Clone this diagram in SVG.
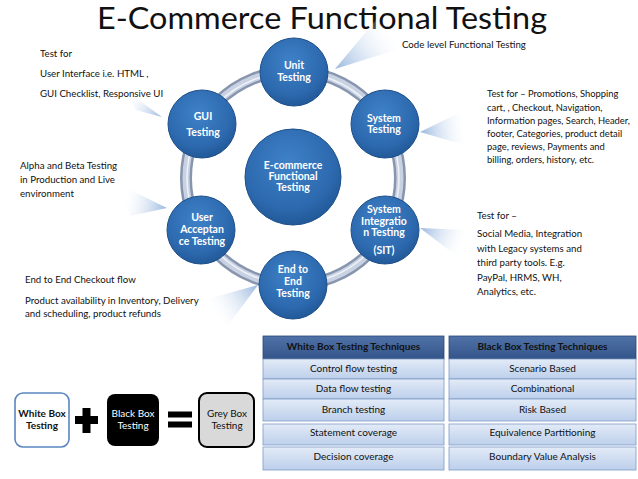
<svg xmlns="http://www.w3.org/2000/svg" width="638" height="479" viewBox="0 0 638 479">
<defs>
<radialGradient id="ball" cx="0.45" cy="0.35" r="0.7">
<stop offset="0" stop-color="#3f82c8"/>
<stop offset="0.7" stop-color="#2c68ad"/>
<stop offset="1" stop-color="#1f5592"/>
</radialGradient>
<linearGradient id="hdr" x1="0" y1="0" x2="0" y2="1">
<stop offset="0" stop-color="#4f72a8"/>
<stop offset="1" stop-color="#34558a"/>
</linearGradient>
<linearGradient id="row" x1="0" y1="0" x2="0" y2="1">
<stop offset="0" stop-color="#e3ebf7"/>
<stop offset="1" stop-color="#bccfeb"/>
</linearGradient>
<linearGradient id="w1" gradientUnits="userSpaceOnUse" x1="335" y1="69" x2="392" y2="32"><stop offset="0" stop-color="#97b6de"/><stop offset="1" stop-color="#ffffff" stop-opacity="0.1"/></linearGradient>
<linearGradient id="w2" gradientUnits="userSpaceOnUse" x1="420" y1="132" x2="466" y2="127"><stop offset="0" stop-color="#97b6de"/><stop offset="1" stop-color="#ffffff" stop-opacity="0.1"/></linearGradient>
<linearGradient id="w3" gradientUnits="userSpaceOnUse" x1="420" y1="228" x2="464" y2="245"><stop offset="0" stop-color="#97b6de"/><stop offset="1" stop-color="#ffffff" stop-opacity="0.1"/></linearGradient>
<linearGradient id="w4" gradientUnits="userSpaceOnUse" x1="162" y1="117" x2="128" y2="97"><stop offset="0" stop-color="#97b6de"/><stop offset="1" stop-color="#ffffff" stop-opacity="0.1"/></linearGradient>
<linearGradient id="w5" gradientUnits="userSpaceOnUse" x1="167" y1="208" x2="124" y2="200"><stop offset="0" stop-color="#97b6de"/><stop offset="1" stop-color="#ffffff" stop-opacity="0.1"/></linearGradient>
<linearGradient id="w6" gradientUnits="userSpaceOnUse" x1="258" y1="285" x2="214" y2="314"><stop offset="0" stop-color="#97b6de"/><stop offset="1" stop-color="#ffffff" stop-opacity="0.1"/></linearGradient>
</defs>
<style>
text{font-family:Lato,"Liberation Sans",sans-serif;}
.t{font-size:9.7px;fill:#111;}
.s{font-size:9.4px;}
.n{font-size:10.5px;fill:#fff;font-weight:bold;text-anchor:middle;}
.ball{fill:url(#ball);stroke:#1e4f8a;stroke-width:1;}
.hd{fill:url(#hdr);stroke:#2b4877;stroke-width:0.8;}
.rw{fill:url(#row);stroke:#7e9cc6;stroke-width:0.8;}
.ht{font-size:10px;font-weight:bold;fill:#111;text-anchor:middle;}
.rt{font-size:10px;fill:#111;text-anchor:middle;}
.bx{font-size:10px;text-anchor:middle;}
</style>
<rect width="638" height="479" fill="#ffffff"/>
<text x="322" y="29" font-size="30" text-anchor="middle" fill="#111" textLength="450" lengthAdjust="spacingAndGlyphs">E-Commerce Functional Testing</text>

<g id="callouts">
<polygon points="335,69 376,20 405,47" fill="url(#w1)"/>
<polygon points="420,132 465,110 468,146" fill="url(#w2)"/>
<polygon points="420,228 466,230 462,260" fill="url(#w3)"/>
<polygon points="162,117 122,88 136,110" fill="url(#w4)"/>
<polygon points="167,208 118,184 130,216" fill="url(#w5)"/>
<polygon points="258,285 204,300 226,328" fill="url(#w6)"/>
</g>

<g id="connectors">
<circle cx="293" cy="178" r="107" fill="none" stroke="#8795ae" stroke-width="12"/>
<circle cx="293" cy="178" r="107" fill="none" stroke="#c9d2e2" stroke-width="7"/>
<circle cx="293" cy="178" r="106" fill="none" stroke="#eef2f8" stroke-width="1.5"/>
</g>

<g id="center">
<circle class="ball" cx="293" cy="177" r="48"/>
<text class="n" x="293" y="169">E-commerce</text>
<text class="n" x="293" y="180">Functional</text>
<text class="n" x="293" y="191">Testing</text>
</g>
<g id="unit">
<circle class="ball" cx="294" cy="72" r="34"/>
<text class="n" x="294" y="69">Unit</text>
<text class="n" x="294" y="81">Testing</text>
</g>
<g id="system">
<circle class="ball" cx="385" cy="124" r="34"/>
<text class="n" x="384" y="122">System</text>
<text class="n" x="384" y="133">Testing</text>
</g>
<g id="sit">
<circle class="ball" cx="385" cy="230" r="34"/>
<text class="n" x="384" y="213">System</text>
<text class="n" x="384" y="225">Integratio</text>
<text class="n" x="384" y="236">n Testing</text>
<text class="n" x="384" y="254">(SIT)</text>
</g>
<g id="e2e">
<circle class="ball" cx="293" cy="285" r="34"/>
<text class="n" x="293" y="273">End to</text>
<text class="n" x="293" y="285">End</text>
<text class="n" x="293" y="297">Testing</text>
</g>
<g id="uat">
<circle class="ball" cx="201" cy="230" r="34"/>
<text class="n" x="202" y="221">User</text>
<text class="n" x="202" y="233">Acceptan</text>
<text class="n" x="202" y="245">ce Testing</text>
</g>
<g id="gui">
<circle class="ball" cx="202" cy="124" r="34"/>
<text class="n" x="203" y="120">GUI</text>
<text class="n" x="203" y="136">Testing</text>
</g>

<g id="notes">
<text class="t" x="402" y="48">Code level Functional Testing</text>
<text class="t s" x="487" y="97">Test for – Promotions, Shopping</text>
<text class="t s" x="487" y="111">cart, , Checkout, Navigation,</text>
<text class="t s" x="487" y="124">Information pages, Search, Header,</text>
<text class="t s" x="487" y="137">footer, Categories, product detail</text>
<text class="t s" x="487" y="150">page, reviews,  Payments and</text>
<text class="t s" x="487" y="163">billing, orders, history, etc.</text>
<text class="t" x="477" y="219">Test for –</text>
<text class="t" x="477" y="237">Social Media, Integration</text>
<text class="t" x="477" y="252">with Legacy systems and</text>
<text class="t" x="477" y="266">third party tools. E.g.</text>
<text class="t" x="477" y="281">PayPal, HRMS, WH,</text>
<text class="t" x="477" y="295">Analytics, etc.</text>
<text class="t" x="40" y="57">Test for</text>
<text class="t" x="40" y="77">User Interface i.e. HTML ,</text>
<text class="t" x="40" y="97">GUI Checklist, Responsive UI</text>
<text class="t" x="20" y="169">Alpha and Beta Testing</text>
<text class="t" x="20" y="183">in Production and Live</text>
<text class="t" x="20" y="197">environment</text>
<text class="t" x="25" y="283">End to End Checkout flow</text>
<text class="t" x="25" y="304">Product availability in Inventory, Delivery</text>
<text class="t" x="25" y="317">and scheduling, product refunds</text>
</g>

<g id="whitebox">
<rect x="15" y="393" width="54" height="54" rx="8" fill="#fff" stroke="#5b86c0" stroke-width="1.6"/>
<text class="bx" x="42" y="417" font-weight="bold" fill="#111">White Box</text>
<text class="bx" x="42" y="429" font-weight="bold" fill="#111">Testing</text>
</g>
<g id="plus">
<rect x="75" y="416" width="23" height="8" fill="#000"/>
<rect x="82.5" y="408" width="8" height="25" fill="#000"/>
</g>
<g id="blackbox">
<rect x="107" y="394" width="52" height="52" rx="8" fill="#000"/>
<text class="bx" x="133" y="417" fill="#fff">Black Box</text>
<text class="bx" x="133" y="429" fill="#fff">Testing</text>
</g>
<g id="equals">
<rect x="168" y="411.5" width="24" height="6" fill="#000"/>
<rect x="168" y="421.5" width="24" height="6" fill="#000"/>
</g>
<g id="greybox">
<rect x="199" y="393" width="55" height="54" rx="8" fill="#d9d9d9" stroke="#000" stroke-width="2"/>
<text class="bx" x="227" y="417" fill="#111">Grey Box</text>
<text class="bx" x="227" y="429" fill="#111">Testing</text>
</g>

<g id="whitebox-table">
<rect class="hd" x="263" y="336" width="181" height="23"/>
<text class="ht" x="353.5" y="350">White Box Testing Techniques</text>
<rect class="rw" x="263" y="359" width="181" height="20"/>
<text class="rt" x="353.5" y="372">Control flow testing</text>
<rect class="rw" x="263" y="379" width="181" height="20"/>
<text class="rt" x="353.5" y="392">Data flow testing</text>
<rect class="rw" x="263" y="399" width="181" height="22"/>
<text class="rt" x="353.5" y="413">Branch testing</text>
<rect class="rw" x="263" y="424" width="181" height="21"/>
<text class="rt" x="353.5" y="436">Statement coverage</text>
<rect class="rw" x="263" y="447" width="181" height="23"/>
<text class="rt" x="353.5" y="460">Decision coverage</text>
</g>
<g id="blackbox-table">
<rect class="hd" x="449" y="336" width="187" height="23"/>
<text class="ht" x="542.5" y="350">Black Box  Testing Techniques</text>
<rect class="rw" x="449" y="359" width="187" height="20"/>
<text class="rt" x="542.5" y="372">Scenario Based</text>
<rect class="rw" x="449" y="379" width="187" height="20"/>
<text class="rt" x="542.5" y="392">Combinational</text>
<rect class="rw" x="449" y="399" width="187" height="22"/>
<text class="rt" x="542.5" y="413">Risk Based</text>
<rect class="rw" x="449" y="424" width="187" height="21"/>
<text class="rt" x="542.5" y="436">Equivalence Partitioning</text>
<rect class="rw" x="449" y="447" width="187" height="23"/>
<text class="rt" x="542.5" y="460">Boundary Value Analysis</text>
</g>
</svg>
